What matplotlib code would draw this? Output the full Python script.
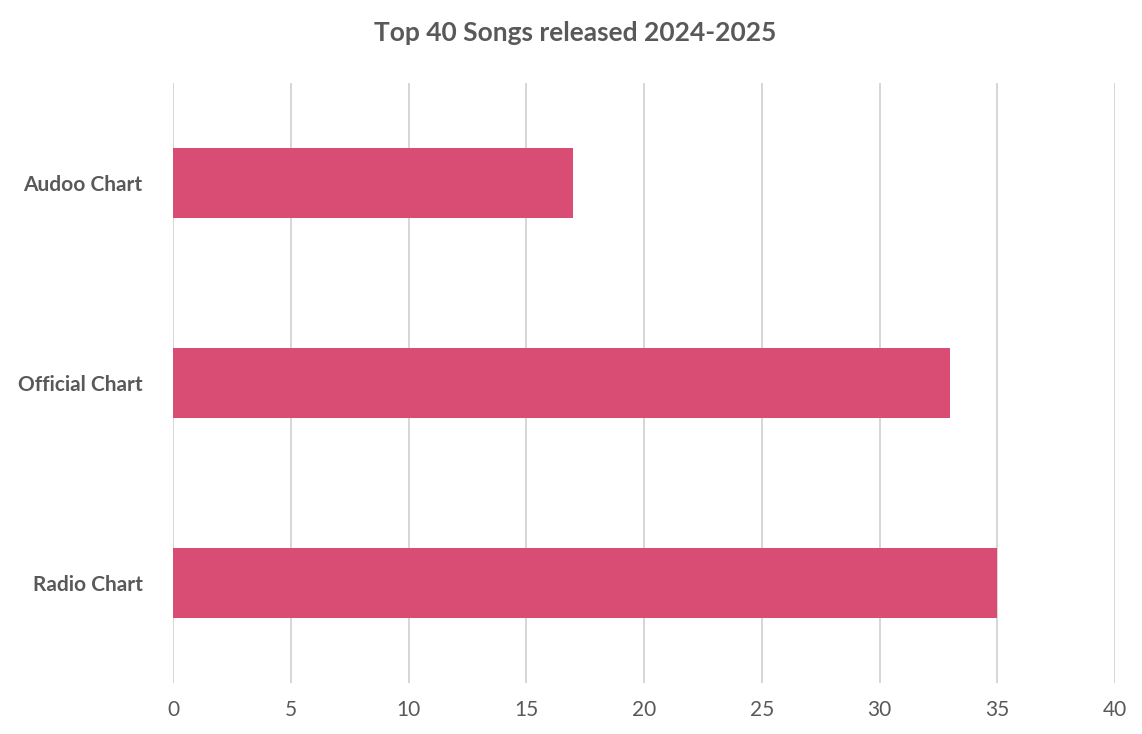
import matplotlib.pyplot as plt

categories = ['Audoo Chart', 'Official Chart', 'Radio Chart']
values = [17, 33, 35]
ticks = [0, 5, 10, 15, 20, 25, 30, 35, 40]

plt.rcParams['font.family'] = 'Lato'
fig = plt.figure(figsize=(11.42, 7.34), dpi=100)
ax = fig.add_axes([173/1142, 1 - 683/734, (1115 - 173)/1142, 600/734])

ax.barh(categories, values, height=0.35, color='#D94C74', zorder=3)
ax.set_ylim(2.5, -0.5)
ax.set_xlim(0, 40)
ax.set_xticks(ticks)
ax.grid(axis='x', color='#D0D0D0', linewidth=1.2, zorder=0)
for s in ax.spines.values():
    s.set_visible(False)
ax.tick_params(length=0, colors='#595959')
ax.tick_params(axis='x', labelsize=15, pad=12)
ax.tick_params(axis='y', labelsize=15, pad=22)
for lbl in ax.get_yticklabels():
    lbl.set_fontweight('bold')
fig.suptitle('Top 40 Songs released 2024-2025', x=575/1142, y=1 - 33/734,
             va='center', fontsize=19, fontweight='bold', color='#595959')
fig.savefig('out.png', dpi=100)
